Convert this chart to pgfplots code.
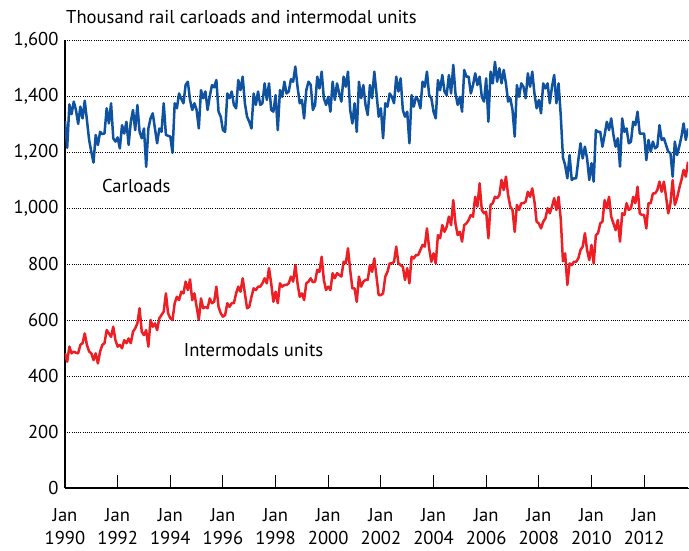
\documentclass[border=0pt]{standalone}
\usepackage{fontspec}
\setmainfont{PT Sans}
\usepackage{pgfplots}
\usepackage{pgfplotstable}
\pgfplotsset{compat=1.18}
\definecolor{cblue}{RGB}{14,82,160}
\definecolor{cred}{RGB}{237,30,36}
\pgfplotstableread{
m car inter
0 1310 481
1 1215 451
2 1370 505
3 1335 481
4 1380 487
5 1350 483
6 1300 481
7 1362 511
8 1320 517
9 1383 552
10 1314 511
11 1243 487
12 1200 481
13 1162 457
14 1261 481
15 1225 445
16 1272 487
17 1264 511
18 1266 517
19 1356 564
20 1302 552
21 1374 540
22 1249 576
23 1237 528
24 1252 505
25 1213 511
26 1296 499
27 1266 528
28 1308 517
29 1225 534
30 1308 517
31 1350 558
32 1278 570
33 1368 588
34 1272 642
35 1249 558
36 1284 546
37 1147 564
38 1284 505
39 1320 600
40 1338 576
41 1284 588
42 1231 564
43 1284 606
44 1272 618
45 1374 630
46 1261 695
47 1258 624
48 1255 606
49 1197 600
50 1374 660
51 1356 683
52 1409 671
53 1390 701
54 1374 695
55 1440 737
56 1451 707
57 1386 745
58 1350 671
59 1374 695
60 1350 647
61 1284 600
62 1421 677
63 1392 642
64 1416 647
65 1350 642
66 1400 677
67 1439 660
68 1431 665
69 1457 719
70 1344 647
71 1326 624
72 1278 612
73 1272 618
74 1409 660
75 1392 647
76 1416 660
77 1368 660
78 1356 695
79 1457 719
80 1421 701
81 1469 749
82 1374 695
83 1326 642
84 1308 647
85 1284 683
86 1409 713
87 1368 707
88 1416 719
89 1368 719
90 1374 731
91 1445 749
92 1386 731
93 1445 785
94 1350 731
95 1344 665
96 1403 701
97 1278 660
98 1421 731
99 1397 719
100 1451 725
101 1409 725
102 1416 731
103 1460 755
104 1451 737
105 1505 796
106 1433 731
107 1374 683
108 1386 695
109 1320 671
110 1421 731
111 1451 737
112 1440 749
113 1350 735
114 1368 737
115 1469 779
116 1427 772
117 1487 826
118 1392 743
119 1368 707
120 1397 719
121 1344 707
122 1451 767
123 1386 749
124 1445 767
125 1409 761
126 1380 755
127 1469 808
128 1433 802
129 1487 856
130 1350 779
131 1302 713
132 1374 713
133 1272 665
134 1451 755
135 1392 719
136 1439 737
137 1368 743
138 1332 743
139 1439 796
140 1392 772
141 1487 820
142 1409 755
143 1326 689
144 1356 689
145 1249 695
146 1374 755
147 1362 772
148 1409 802
149 1397 802
150 1374 808
151 1469 862
152 1416 802
153 1463 796
154 1350 790
155 1326 743
156 1344 785
157 1231 731
158 1403 826
159 1362 820
160 1397 832
161 1386 832
162 1356 850
163 1451 868
164 1433 862
165 1487 927
166 1403 856
167 1392 808
168 1344 838
169 1320 802
170 1457 903
171 1421 892
172 1475 939
173 1416 915
174 1403 933
175 1475 969
176 1409 939
177 1511 1028
178 1409 945
179 1368 903
180 1397 915
181 1344 880
182 1493 939
183 1469 945
184 1469 957
185 1409 975
186 1439 969
187 1481 1040
188 1439 1005
189 1469 1088
190 1397 993
191 1380 981
192 1463 987
193 1308 892
194 1487 1011
195 1445 1017
196 1522 1040
197 1451 1035
198 1499 1046
199 1445 1100
200 1493 1064
201 1445 1112
202 1380 1046
203 1392 1005
204 1350 993
205 1255 915
206 1439 1011
207 1397 993
208 1445 1017
209 1433 1017
210 1392 1023
211 1481 1058
212 1433 1040
213 1487 1070
214 1409 1023
215 1356 951
216 1386 945
217 1338 927
218 1445 951
219 1427 963
220 1445 999
221 1374 981
222 1433 1005
223 1475 1035
224 1374 993
225 1445 1040
226 1330 960
227 1180 810
228 1153 838
229 1106 725
230 1189 802
231 1100 796
232 1106 808
233 1106 808
234 1171 820
235 1231 850
236 1177 862
237 1219 910
238 1177 850
239 1100 814
240 1160 868
241 1094 802
242 1278 903
243 1272 910
244 1272 945
245 1219 951
246 1261 1028
247 1308 999
248 1278 1040
249 1320 969
250 1261 945
251 1219 921
252 1249 957
253 1148 880
254 1320 981
255 1272 975
256 1284 1017
257 1231 993
258 1237 999
259 1308 1040
260 1296 1017
261 1344 1076
262 1266 981
263 1266 975
264 1266 975
265 1171 927
266 1243 1017
267 1201 1017
268 1237 1052
269 1213 1052
270 1219 1064
271 1296 1094
272 1243 1058
273 1249 1094
274 1225 1040
275 1201 981
276 1196 1017
277 1112 1100
278 1237 1011
279 1189 1035
280 1219 1070
281 1255 1100
282 1302 1136
283 1243 1112
284 1284 1165
}\datatable
\begin{document}
\begin{tikzpicture}
\begin{axis}[
  at={(0pt,0pt)}, anchor=south west,
  scale only axis, width=623pt, height=448pt,
  xmin=0, xmax=284, ymin=0, ymax=1600,
  axis x line=bottom, axis y line=left,
  axis line style={-, line width=2pt, black},
  xtick={0,24,...,264},
  xticklabels={{Jan\\1990},{Jan\\1992},{Jan\\1994},{Jan\\1996},{Jan\\1998},{Jan\\2000},{Jan\\2002},{Jan\\2004},{Jan\\2006},{Jan\\2008},{Jan\\2010},{Jan\\2012}},
  xticklabel style={align=center, font=\fontsize{18.6}{23}\selectfont, yshift=-17pt},
  ytick={0,200,...,1600},
  yticklabels={0,200,400,600,800,{1,000},{1,200},{1,400},{1,600}},
  yticklabel style={font=\fontsize{18.6}{20}\selectfont, xshift=-3pt},
  ymajorgrids,
  major grid style={black, line width=0.7pt, dash pattern=on 1pt off 1.2pt},
  tick align=inside,
  major tick length=13pt,
  xtick style={black, line width=1pt},
  ytick style={draw=none},
]
\addplot[cblue, line width=2.5pt, line join=round] table[x=m, y=car] {\datatable};
\addplot[cred, line width=2.5pt, line join=round] table[x=m, y=inter] {\datatable};
\node[font=\fontsize{18.6}{20}\selectfont] at (axis cs:32.5,1078) {Carloads};
\node[font=\fontsize{18.6}{20}\selectfont] at (axis cs:86,493) {Intermodals units};
\end{axis}
\node[anchor=west, inner sep=0pt, font=\fontsize{18.6}{20}\selectfont] at (1pt,471pt) {Thousand rail carloads and intermodal units};
\pgfresetboundingbox
\path[use as bounding box] (-65pt,-63pt) rectangle (624pt,488pt);
\end{tikzpicture}
\end{document}
